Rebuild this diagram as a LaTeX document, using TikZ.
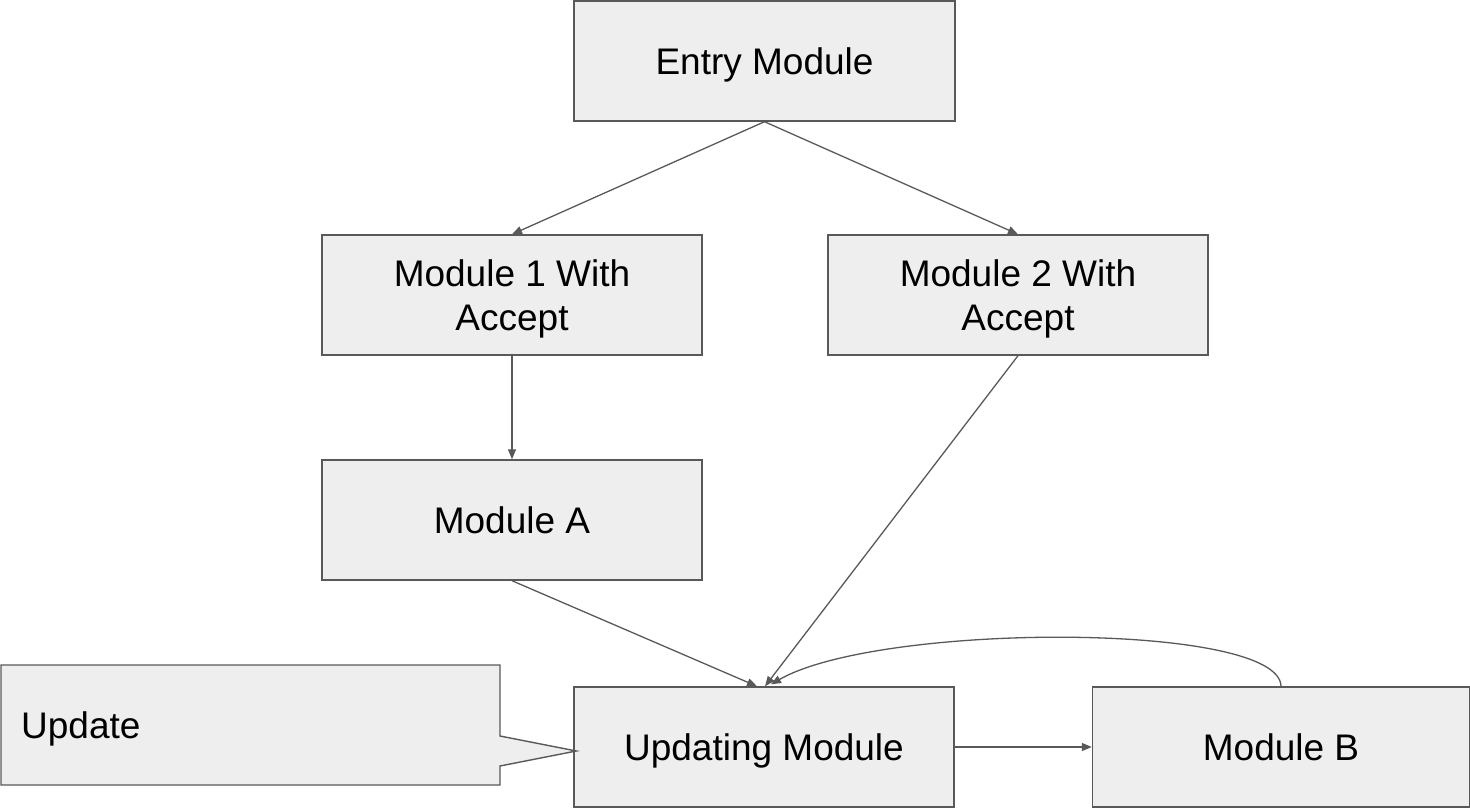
\documentclass[tikz,border=0pt]{standalone}
\usepackage{fontspec}
\setmainfont{Liberation Sans}
\usetikzlibrary{arrows.meta}
\definecolor{edgegray}{HTML}{595959}
\definecolor{boxfill}{HTML}{EEEEEE}
\tikzset{
  modbox/.style={draw=edgegray, fill=boxfill, line width=1.4pt, rectangle,
    minimum width=380pt, minimum height=120pt, inner sep=0pt, align=center,
    font=\fontsize{37}{44}\selectfont, text depth=0pt},
  oneline/.style={text height=26.5pt},
  link/.style={draw=edgegray, line width=1.3pt, -{Triangle[length=10pt,width=8pt]}},
}
\begin{document}
\begin{tikzpicture}[x=1pt,y=-1pt]
\useasboundingbox (0,0) rectangle (1470,808);

% module boxes
\node[modbox, oneline, minimum width=381pt] (entry) at (764.5,61) {Entry Module};
\node[modbox] (mod1) at (512,295) {Module 1 With\\Accept};
\node[modbox] (mod2) at (1018,295) {Module 2 With\\Accept};
\node[modbox, oneline] (moda) at (512,520) {Module A};
\node[modbox, oneline] (updm) at (764,747) {Updating Module};
\node[modbox, oneline, minimum width=377pt] (modb) at (1281,747) {Module B};

% callout with pointer towards the updating module
\coordinate (tip) at ([xshift=3pt,yshift=-4pt]updm.west);
\draw[draw=edgegray, fill=boxfill, line width=1.4pt, line join=miter]
  (1,665) -- (500,665) -- (500,736) -- (tip) -- (500,766) -- (500,785)
  -- (1,785) -- cycle;
\node[anchor=west, inner sep=0pt, font=\fontsize{37}{44}\selectfont,
  text height=26.5pt, text depth=0pt] (updnote) at (21,725.5) {Update};

% connectors
\draw[link] (entry.south) -- (mod1.north);
\draw[link] (entry.south) -- (mod2.north);
\draw[link] (mod1.south) -- (moda.north);
\draw[link] (moda.south) -- ([xshift=-7pt]updm.north);
\draw[link] (mod2.south) -- ([xshift=1pt]updm.north);
\draw[link] (updm.east) -- (modb.west);
\draw[link] (modb.north) .. controls (1280,622) and (880,622) .. ([xshift=7pt,yshift=2pt]updm.north);
\end{tikzpicture}
\end{document}
